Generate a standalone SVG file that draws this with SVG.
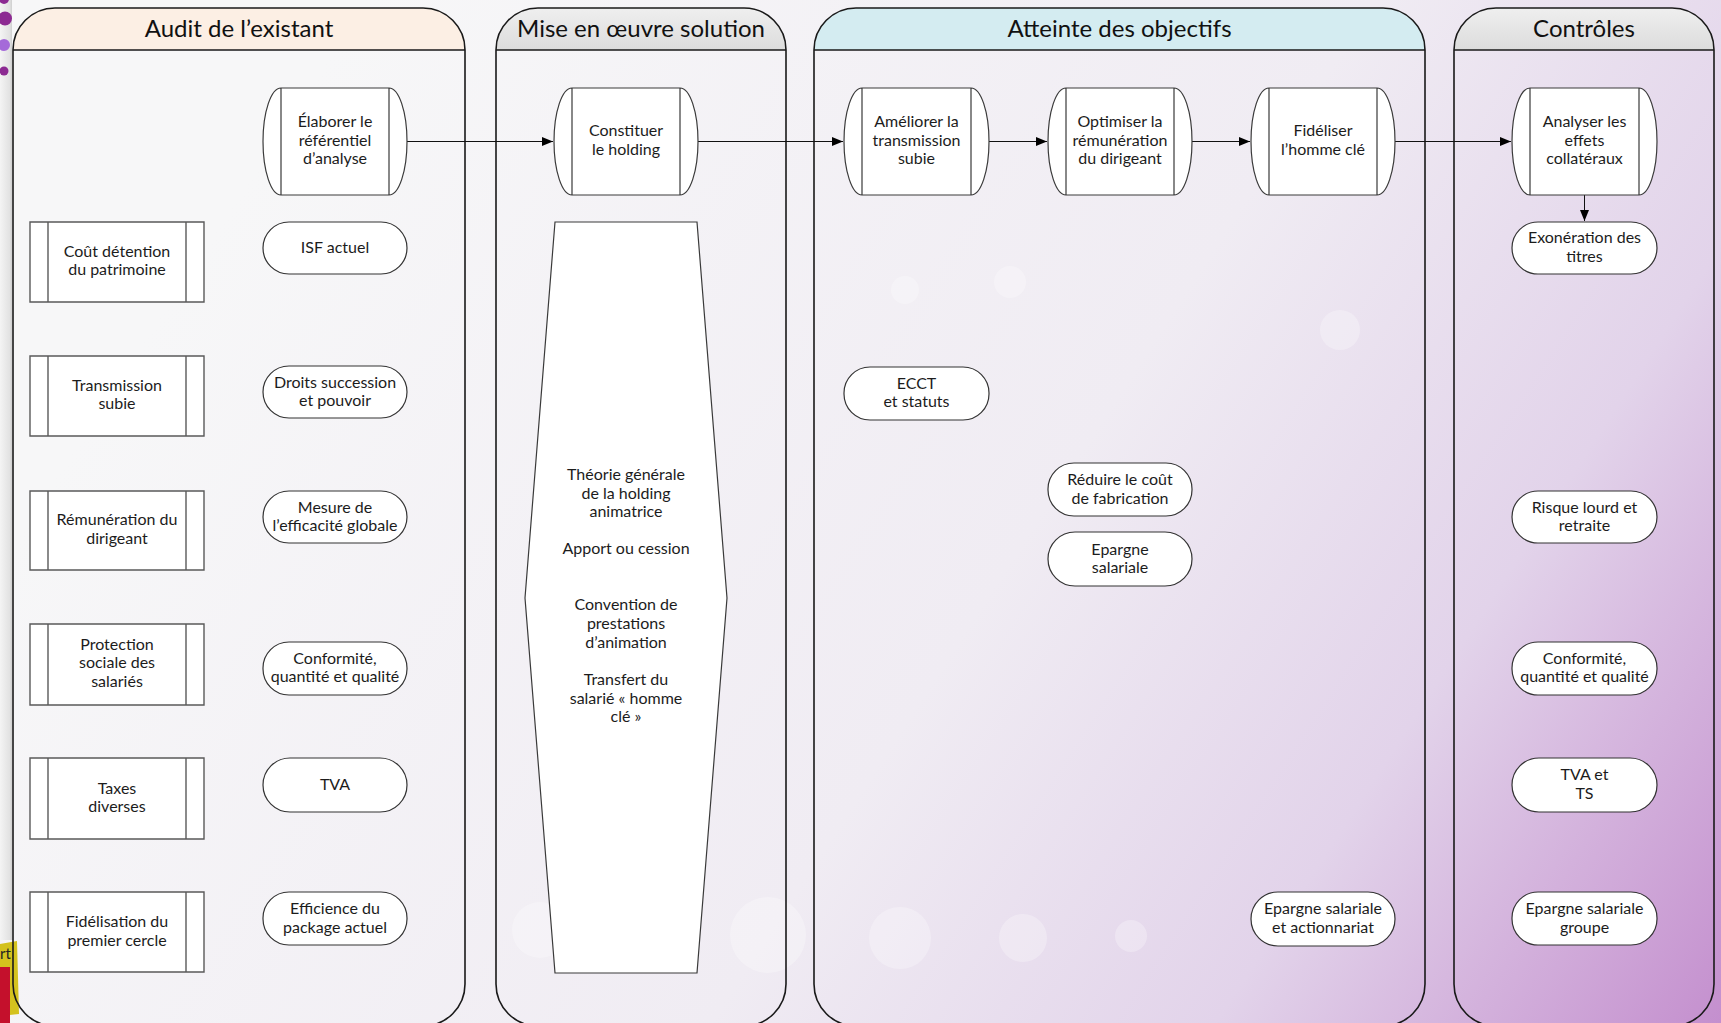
<svg xmlns="http://www.w3.org/2000/svg" width="1721" height="1023" viewBox="0 0 1721 1023">
<defs>
<linearGradient id="bg" gradientUnits="userSpaceOnUse" x1="300" y1="100" x2="1721" y2="1023">
<stop offset="0" stop-color="#f7f7f8"/>
<stop offset="0.5" stop-color="#f0ecf3"/>
<stop offset="0.75" stop-color="#e2d3ea"/>
<stop offset="1" stop-color="#c48fce"/>
</linearGradient>
<linearGradient id="strip" x1="0" y1="0" x2="1" y2="0">
<stop offset="0" stop-color="#f4f4f4"/>
<stop offset="0.8" stop-color="#e2e2e2"/>
<stop offset="1" stop-color="#cfcfcf"/>
</linearGradient>
<linearGradient id="gray" x1="0" y1="0" x2="0" y2="1">
<stop offset="0" stop-color="#efefef"/>
<stop offset="1" stop-color="#dcdcdc"/>
</linearGradient>
<marker id="arr" markerUnits="userSpaceOnUse" markerWidth="11" markerHeight="9" refX="11" refY="4.5" orient="auto">
<path d="M0,0 L11,4.5 L0,9 Z" fill="#000"/>
</marker>
<style>
.lane{fill:none;stroke:#1a1a1a;stroke-width:1.6}
.proc{fill:#fff;stroke:#3a3a3a;stroke-width:1.2}
.sub{fill:#fff;stroke:#5a5a5a;stroke-width:1.4}
.pill{fill:#fff;stroke:#333;stroke-width:1.2}
.t{font-family:Lato,"Liberation Sans",sans-serif;font-size:16px;fill:#1c1c1c;text-anchor:middle}
.h{font-size:24px;fill:#111}
.conn{stroke:#111;stroke-width:1;fill:none;marker-end:url(#arr)}
.bok{fill:#fff;opacity:0.28}
</style>
</defs>

<!-- background -->
<rect x="0" y="0" width="1721" height="1023" fill="url(#bg)"/>
<circle class="bok" cx="768" cy="935" r="38"/>
<circle class="bok" cx="900" cy="938" r="31"/>
<circle class="bok" cx="1023" cy="938" r="24"/>
<circle class="bok" cx="1131" cy="936" r="16"/>
<circle class="bok" cx="1010" cy="282" r="16"/>
<circle class="bok" cx="905" cy="290" r="14"/>
<circle class="bok" cx="1340" cy="330" r="20"/>
<circle class="bok" cx="540" cy="930" r="28"/>

<!-- left slide decorations -->
<rect x="0" y="0" width="12" height="940" fill="url(#strip)"/>
<circle cx="4" cy="-1" r="5" fill="#8c2a92"/>
<circle cx="5" cy="18.5" r="7" fill="#8c2a92"/>
<circle cx="4" cy="45" r="6" fill="#a56ad9"/>
<circle cx="4" cy="71" r="4.5" fill="#8c2a92"/>
<path d="M0,944 L17,941 L19,1014 L0,1016 Z" fill="#d4c21e"/>
<rect x="0" y="967" width="10" height="56" fill="#c4102c"/>
<text x="0" y="959" style="font-family:Lato,'Liberation Sans',sans-serif;font-size:15px;fill:#222">rt</text>

<!-- lanes -->
<g id="lane-audit">
<path d="M13,50 A42,42 0 0 1 55,8 H423 A42,42 0 0 1 465,50 Z" fill="#fcefe4"/>
<path class="lane" d="M13,50 A42,42 0 0 1 55,8 H423 A42,42 0 0 1 465,50 V984 A42,42 0 0 1 423,1026 H55 A42,42 0 0 1 13,984 Z M13,50 H465"/>
<text class="t h" x="239" y="37">Audit de l’existant</text>
</g>
<g id="lane-mise">
<path d="M496,50 A42,42 0 0 1 538,8 H744 A42,42 0 0 1 786,50 Z" fill="url(#gray)"/>
<path class="lane" d="M496,50 A42,42 0 0 1 538,8 H744 A42,42 0 0 1 786,50 V984 A42,42 0 0 1 744,1026 H538 A42,42 0 0 1 496,984 Z M496,50 H786"/>
<text class="t h" x="641" y="37">Mise en œuvre solution</text>
</g>
<g id="lane-atteinte">
<path d="M814,50 A42,42 0 0 1 856,8 H1383 A42,42 0 0 1 1425,50 Z" fill="#d4ecf1"/>
<path class="lane" d="M814,50 A42,42 0 0 1 856,8 H1383 A42,42 0 0 1 1425,50 V984 A42,42 0 0 1 1383,1026 H856 A42,42 0 0 1 814,984 Z M814,50 H1425"/>
<text class="t h" x="1119.5" y="37">Atteinte des objectifs</text>
</g>
<g id="lane-controles">
<path d="M1454,50 A42,42 0 0 1 1496,8 H1672 A42,42 0 0 1 1714,50 Z" fill="url(#gray)"/>
<path class="lane" d="M1454,50 A42,42 0 0 1 1496,8 H1672 A42,42 0 0 1 1714,50 V984 A42,42 0 0 1 1672,1026 H1496 A42,42 0 0 1 1454,984 Z M1454,50 H1714"/>
<text class="t h" x="1584" y="37">Contrôles</text>
</g>

<!-- connectors -->
<g id="connectors">
<line class="conn" x1="407" y1="141.5" x2="553" y2="141.5"/>
<line class="conn" x1="698" y1="141.5" x2="843" y2="141.5"/>
<line class="conn" x1="989" y1="141.5" x2="1047" y2="141.5"/>
<line class="conn" x1="1192" y1="141.5" x2="1250" y2="141.5"/>
<line class="conn" x1="1395" y1="141.5" x2="1511" y2="141.5"/>
<line class="conn" x1="1584.5" y1="195" x2="1584.5" y2="221"/>
</g>

<!-- process nodes (top row) -->
<g id="n-elaborer">
<path class="proc" d="M281,88 H389 A18,53.5 0 0 1 389,195 H281 A18,53.5 0 0 1 281,88 Z M281,88 V195 M389,88 V195"/>
<text class="t" x="335" y="127"><tspan x="335">Élaborer le</tspan><tspan x="335" dy="18.7">référentiel</tspan><tspan x="335" dy="18.7">d’analyse</tspan></text>
</g>
<g id="n-constituer">
<path class="proc" d="M572,88 H680 A18,53.5 0 0 1 680,195 H572 A18,53.5 0 0 1 572,88 Z M572,88 V195 M680,88 V195"/>
<text class="t" x="626" y="136"><tspan x="626">Constituer</tspan><tspan x="626" dy="18.7">le holding</tspan></text>
</g>
<g id="n-ameliorer">
<path class="proc" d="M862,88 H971 A18,53.5 0 0 1 971,195 H862 A18,53.5 0 0 1 862,88 Z M862,88 V195 M971,88 V195"/>
<text class="t" x="916.5" y="127"><tspan x="916.5">Améliorer la</tspan><tspan x="916.5" dy="18.7">transmission</tspan><tspan x="916.5" dy="18.7">subie</tspan></text>
</g>
<g id="n-optimiser">
<path class="proc" d="M1066,88 H1174 A18,53.5 0 0 1 1174,195 H1066 A18,53.5 0 0 1 1066,88 Z M1066,88 V195 M1174,88 V195"/>
<text class="t" x="1120" y="127"><tspan x="1120">Optimiser la</tspan><tspan x="1120" dy="18.7">rémunération</tspan><tspan x="1120" dy="18.7">du dirigeant</tspan></text>
</g>
<g id="n-fideliser">
<path class="proc" d="M1269,88 H1377 A18,53.5 0 0 1 1377,195 H1269 A18,53.5 0 0 1 1269,88 Z M1269,88 V195 M1377,88 V195"/>
<text class="t" x="1323" y="136"><tspan x="1323">Fidéliser</tspan><tspan x="1323" dy="18.7">l’homme clé</tspan></text>
</g>
<g id="n-analyser">
<path class="proc" d="M1530,88 H1639 A18,53.5 0 0 1 1639,195 H1530 A18,53.5 0 0 1 1530,88 Z M1530,88 V195 M1639,88 V195"/>
<text class="t" x="1584.5" y="127"><tspan x="1584.5">Analyser les</tspan><tspan x="1584.5" dy="18.7">effets</tspan><tspan x="1584.5" dy="18.7">collatéraux</tspan></text>
</g>

<!-- audit subprocess boxes -->
<g id="n-cout">
<path class="sub" d="M30,222 H204 V302 H30 Z M48,222 V302 M186,222 V302"/>
<text class="t" x="117" y="256.5"><tspan x="117">Coût détention</tspan><tspan x="117" dy="18.7">du patrimoine</tspan></text>
</g>
<g id="n-transmission">
<path class="sub" d="M30,356 H204 V436 H30 Z M48,356 V436 M186,356 V436"/>
<text class="t" x="117" y="390.5"><tspan x="117">Transmission</tspan><tspan x="117" dy="18.7">subie</tspan></text>
</g>
<g id="n-remuneration">
<path class="sub" d="M30,491 H204 V570 H30 Z M48,491 V570 M186,491 V570"/>
<text class="t" x="117" y="525"><tspan x="117">Rémunération du</tspan><tspan x="117" dy="18.7">dirigeant</tspan></text>
</g>
<g id="n-protection">
<path class="sub" d="M30,624 H204 V705 H30 Z M48,624 V705 M186,624 V705"/>
<text class="t" x="117" y="649.5"><tspan x="117">Protection</tspan><tspan x="117" dy="18.7">sociale des</tspan><tspan x="117" dy="18.7">salariés</tspan></text>
</g>
<g id="n-taxes">
<path class="sub" d="M30,758 H204 V839 H30 Z M48,758 V839 M186,758 V839"/>
<text class="t" x="117" y="793.5"><tspan x="117">Taxes</tspan><tspan x="117" dy="18.7">diverses</tspan></text>
</g>
<g id="n-fidelisation">
<path class="sub" d="M30,892 H204 V972 H30 Z M48,892 V972 M186,892 V972"/>
<text class="t" x="117" y="927"><tspan x="117">Fidélisation du</tspan><tspan x="117" dy="18.7">premier cercle</tspan></text>
</g>

<!-- audit pills -->
<g id="n-isf">
<rect class="pill" x="263" y="222" width="144" height="52" rx="26"/>
<text class="t" x="335" y="253">ISF actuel</text>
</g>
<g id="n-droits">
<rect class="pill" x="263" y="366" width="144" height="52" rx="26"/>
<text class="t" x="335" y="387.5"><tspan x="335">Droits succession</tspan><tspan x="335" dy="18.7">et pouvoir</tspan></text>
</g>
<g id="n-mesure">
<rect class="pill" x="263" y="491" width="144" height="52" rx="26"/>
<text class="t" x="335" y="512.5"><tspan x="335">Mesure de</tspan><tspan x="335" dy="18.7">l’efficacité globale</tspan></text>
</g>
<g id="n-conformite1">
<rect class="pill" x="263" y="642" width="144" height="53" rx="26"/>
<text class="t" x="335" y="663.5"><tspan x="335">Conformité,</tspan><tspan x="335" dy="18.7">quantité et qualité</tspan></text>
</g>
<g id="n-tva">
<rect class="pill" x="263" y="758" width="144" height="54" rx="27"/>
<text class="t" x="335" y="790">TVA</text>
</g>
<g id="n-efficience">
<rect class="pill" x="263" y="892" width="144" height="53" rx="26"/>
<text class="t" x="335" y="914"><tspan x="335">Efficience du</tspan><tspan x="335" dy="18.7">package actuel</tspan></text>
</g>

<!-- mise en oeuvre hexagon -->
<g id="n-theorie">
<polygon class="proc" points="555,222 697,222 727,598 697,973 555,973 525,598"/>
<text class="t" x="626" y="480"><tspan x="626">Théorie générale</tspan><tspan x="626" dy="18.7">de la holding</tspan><tspan x="626" dy="18.7">animatrice</tspan><tspan x="626" dy="37">Apport ou cession</tspan><tspan x="626" dy="56">Convention de</tspan><tspan x="626" dy="18.7">prestations</tspan><tspan x="626" dy="18.7">d’animation</tspan><tspan x="626" dy="37">Transfert du</tspan><tspan x="626" dy="18.7">salarié « homme</tspan><tspan x="626" dy="18.7">clé »</tspan></text>
</g>

<!-- atteinte pills -->
<g id="n-ecct">
<rect class="pill" x="844" y="367" width="145" height="53" rx="26"/>
<text class="t" x="916.5" y="388.5"><tspan x="916.5">ECCT</tspan><tspan x="916.5" dy="18.7">et statuts</tspan></text>
</g>
<g id="n-reduire">
<rect class="pill" x="1048" y="463" width="144" height="53" rx="26"/>
<text class="t" x="1120" y="485"><tspan x="1120">Réduire le coût</tspan><tspan x="1120" dy="18.7">de fabrication</tspan></text>
</g>
<g id="n-epargne">
<rect class="pill" x="1048" y="532" width="144" height="54" rx="27"/>
<text class="t" x="1120" y="554.5"><tspan x="1120">Epargne</tspan><tspan x="1120" dy="18.7">salariale</tspan></text>
</g>
<g id="n-epargne-action">
<rect class="pill" x="1251" y="892" width="144" height="54" rx="27"/>
<text class="t" x="1323" y="914"><tspan x="1323">Epargne salariale</tspan><tspan x="1323" dy="18.7">et actionnariat</tspan></text>
</g>

<!-- controles pills -->
<g id="n-exoneration">
<rect class="pill" x="1512" y="222" width="145" height="52" rx="26"/>
<text class="t" x="1584.5" y="243"><tspan x="1584.5">Exonération des</tspan><tspan x="1584.5" dy="18.7">titres</tspan></text>
</g>
<g id="n-risque">
<rect class="pill" x="1512" y="491" width="145" height="52" rx="26"/>
<text class="t" x="1584.5" y="512.5"><tspan x="1584.5">Risque lourd et</tspan><tspan x="1584.5" dy="18.7">retraite</tspan></text>
</g>
<g id="n-conformite2">
<rect class="pill" x="1512" y="642" width="145" height="53" rx="26"/>
<text class="t" x="1584.5" y="663.5"><tspan x="1584.5">Conformité,</tspan><tspan x="1584.5" dy="18.7">quantité et qualité</tspan></text>
</g>
<g id="n-tvats">
<rect class="pill" x="1512" y="758" width="145" height="54" rx="27"/>
<text class="t" x="1584.5" y="780"><tspan x="1584.5">TVA et</tspan><tspan x="1584.5" dy="18.7">TS</tspan></text>
</g>
<g id="n-epargne-groupe">
<rect class="pill" x="1512" y="892" width="145" height="53" rx="26"/>
<text class="t" x="1584.5" y="914"><tspan x="1584.5">Epargne salariale</tspan><tspan x="1584.5" dy="18.7">groupe</tspan></text>
</g>
</svg>
